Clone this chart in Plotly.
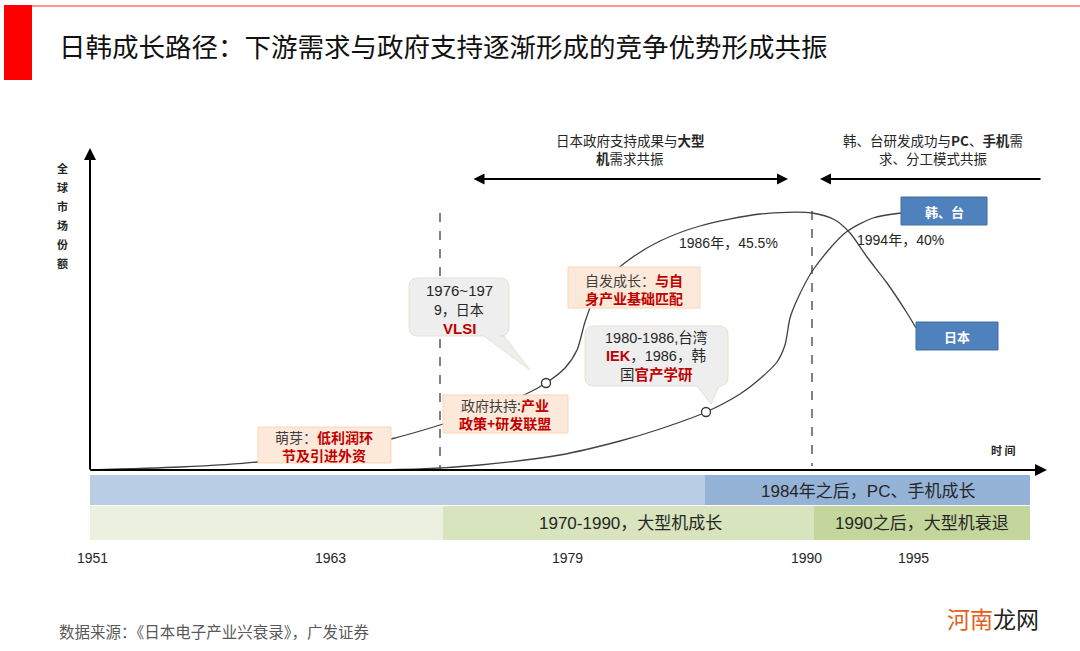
import plotly.graph_objects as go

# ---------------- data ----------------
title_text = "日韩成长路径：下游需求与政府支持逐渐形成的竞争优势形成共振"
source_text = "数据来源：《日本电子产业兴衰录》，广发证券"
year_labels = ["1951", "1963", "1979", "1990", "1995"]
year_x = [92, 330, 567, 806, 913]

# schematic market-share curves (diagram coordinates)
japan_x = [90, 180, 257, 330, 391, 440, 490, 528, 546, 565, 577, 585, 595, 610, 630, 660, 700, 760, 812, 835, 850, 867, 887, 907, 916]
japan_y = [470, 467, 462, 452, 439, 425, 408, 393, 383, 368, 350, 322, 296, 276, 259, 241, 226, 214, 213, 220, 233, 257, 283, 313, 328]
korea_x = [340, 420, 480, 560, 620, 660, 706, 740, 762, 777, 785, 790, 797, 813, 845, 873, 901]
korea_y = [470, 469, 465, 455, 441, 429, 412, 394, 377, 362, 345, 318, 300, 270, 233, 218, 213]
marker_x = [546, 706]
marker_y = [383, 412]

band1_labels = ["", "1984年之后，PC、手机成长"]
band2_labels = ["", "1970-1990，大型机成长", "1990之后，大型机衰退"]
yaxis_label = list("全球市场份额")

RED = "#c00000"
CJK = "Noto Sans CJK SC"
LAT = "Liberation Sans, Arial, Noto Sans CJK SC"
NARROW = "Liberation Sans Narrow, Liberation Sans, Noto Sans CJK SC"

fig = go.Figure()

# curves
fig.add_trace(go.Scatter(x=japan_x, y=japan_y, mode="lines", line=dict(color="#404040", width=1.3, shape="spline", smoothing=0.8), hoverinfo="skip"))
fig.add_trace(go.Scatter(x=korea_x, y=korea_y, mode="lines", line=dict(color="#404040", width=1.3, shape="spline", smoothing=0.8), hoverinfo="skip"))

shapes = []
ann = []

def rect(x0, y0, x1, y1, fill, line=None, lw=1, layer="above"):
    shapes.append(dict(type="rect", xref="x", yref="y", x0=x0, y0=y0, x1=x1, y1=y1,
                       fillcolor=fill, line=dict(color=line or fill, width=lw if line else 0), layer=layer))

def text(x, y, s, size=13, color="#262626", family=CJK, xanchor="center", yanchor="middle"):
    ann.append(dict(x=x, y=y, xref="x", yref="y", text=s, showarrow=False, xanchor=xanchor, yanchor=yanchor,
                    font=dict(size=size, color=color, family=family)))

def bubble(x0, y0, x1, y1, bx0, bx1, tx, ty, r=9):
    p = (f"M {x0+r},{y0} L {x1-r},{y0} Q {x1},{y0} {x1},{y0+r} L {x1},{y1-r} Q {x1},{y1} {x1-r},{y1} "
         f"L {bx1},{y1} L {tx},{ty} L {bx0},{y1} L {x0+r},{y1} Q {x0},{y1} {x0},{y1-r} L {x0},{y0+r} Q {x0},{y0} {x0+r},{y0} Z")
    shapes.append(dict(type="path", xref="x", yref="y", path=p, fillcolor="#eeeeee",
                       line=dict(color="#e6e2cf", width=1), layer="above"))

# header
rect(4, 5, 32, 80, "#ff0000")
shapes.append(dict(type="line", xref="x", yref="y", x0=32, y0=6, x1=1080, y1=6, line=dict(color="#ff7070", width=1.5)))
text(57, 45, title_text, size=26.5, color="#111111", xanchor="left")

# bands
rect(90, 475, 705, 505, "#b9cde5", layer="below")
rect(705, 475, 1030, 505, "#95b3d7", layer="below")
rect(90, 506, 443, 540, "#ebf1de", layer="below")
rect(443, 506, 814, 540, "#d7e4bd", layer="below")
rect(814, 506, 1030, 540, "#c3d69b", layer="below")
text(868, 491, band1_labels[1], size=17, color="#262626", family=NARROW)
text(630, 523, band2_labels[1], size=17, color="#262626", family=NARROW)
text(922, 523, band2_labels[2], size=17, color="#262626", family=NARROW)

# year labels
for yl, yx in zip(year_labels, year_x):
    text(yx, 558, yl, size=14, color="#262626", family=NARROW)

# dashed lines
shapes.append(dict(type="line", xref="x", yref="y", x0=440, y0=213, x1=440, y1=470, line=dict(color="#404040", width=1.3, dash="dash")))
shapes.append(dict(type="line", xref="x", yref="y", x0=812, y0=211, x1=812, y1=466, line=dict(color="#404040", width=1.3, dash="dash")))

# axes arrows
ann.append(dict(x=90, y=148, ax=90, ay=471, xref="x", yref="y", axref="x", ayref="y", text="", showarrow=True,
                arrowhead=2, arrowsize=1.2, arrowwidth=2, arrowcolor="#000000"))
ann.append(dict(x=1047, y=470, ax=89, ay=470, xref="x", yref="y", axref="x", ayref="y", text="", showarrow=True,
                arrowhead=2, arrowsize=1.2, arrowwidth=2, arrowcolor="#000000"))
for i, ch in enumerate(yaxis_label):
    text(62, 168 + i * 19, f"<b>{ch}</b>", size=11, color="#262626")
text(1003, 450, "<b>时 间</b>", size=11, color="#262626")

# top phase labels and arrows
text(630, 140, "日本政府支持成果与<b>大型</b>", size=13.5, color="#262626")
text(630, 158, "<b>机</b>需求共振", size=13.5, color="#262626")
text(933, 140, "韩、台研发成功与<b>PC</b>、<b>手机</b>需", size=13.5, color="#262626")
text(933, 158, "求、分工模式共振", size=13.5, color="#262626")
ann.append(dict(x=788, y=179, ax=472, ay=179, xref="x", yref="y", axref="x", ayref="y", text="", showarrow=True,
                arrowhead=2, startarrowhead=2, arrowside="end+start", arrowsize=1.1, arrowwidth=2, arrowcolor="#000000"))
ann.append(dict(x=820, y=179, ax=1042, ay=179, xref="x", yref="y", axref="x", ayref="y", text="", showarrow=True,
                arrowhead=2, arrowsize=1.1, arrowwidth=2, arrowcolor="#000000"))

# peak labels
text(728, 243, "1986年，45.5%", size=14, color="#262626", family=LAT)
text(900, 240, "1994年，40%", size=14, color="#262626", family=LAT)

# country boxes
rect(901, 197, 987, 225, "#4f81bd", line="#41719c")
text(944, 211, "<b>韩、台</b>", size=13, color="#ffffff")
rect(916, 322, 998, 350, "#4f81bd", line="#41719c")
text(957, 336, "<b>日本</b>", size=13, color="#ffffff")

# orange stage boxes
rect(258, 427, 391, 463, "#fde9d9", line="#fcd5b5")
text(324, 437, f"萌芽：<span style='color:{RED}'><b>低利润环</b></span>", size=14, color="#404040")
text(324, 455, f"<b>节及引进外资</b>", size=14, color=RED)
rect(443, 395, 568, 433, "#fde9d9", line="#fcd5b5")
text(505, 405, f"政府扶持:<span style='color:{RED}'><b>产业</b></span>", size=14, color="#404040")
text(505, 423, "<b>政策+研发联盟</b>", size=14, color=RED)
rect(568, 267, 700, 308, "#fde9d9", line="#fcd5b5")
text(634, 280, f"自发成长：<span style='color:{RED}'><b>与自</b></span>", size=14, color="#404040")
text(634, 298, "<b>身产业基础匹配</b>", size=14, color=RED)

# speech bubbles
bubble(409, 278, 509, 336, 484, 504, 530, 370)
text(459, 290, "1976~197", size=15, color="#262626", family=LAT)
text(459, 310, "9，日本", size=14, color="#262626", family=LAT)
text(459, 328, "<b>VLSI</b>", size=15, color=RED, family=LAT)
bubble(585, 326, 728, 386, 697, 719, 711, 404)
text(656, 338, "1980-1986,台湾", size=14.5, color="#262626", family=LAT)
text(656, 356, f"<b><span style='color:{RED}'>IEK</span></b>，1986，韩", size=14.5, color="#262626", family=LAT)
text(656, 374, f"国<span style='color:{RED}'><b>官产学研</b></span>", size=14.5, color="#262626", family=LAT)

# markers (on top)
fig.add_trace(go.Scatter(x=marker_x, y=marker_y, mode="markers",
                         marker=dict(size=9, color="#ffffff", line=dict(color="#333333", width=1.3)), hoverinfo="skip"))

# footer
text(57, 631, source_text, size=15.5, color="#595959", xanchor="left")
text(945, 618, "<span style='color:#e0601c'>河南</span>龙网", size=23, color="#222222", xanchor="left")

fig.update_layout(
    width=1080, height=651, margin=dict(l=0, r=0, t=0, b=0),
    paper_bgcolor="white", plot_bgcolor="white", showlegend=False,
    xaxis=dict(range=[0, 1080], visible=False, fixedrange=True),
    yaxis=dict(range=[651, 0], visible=False, fixedrange=True),
    shapes=shapes, annotations=ann,
)
fig.write_html("out.html", config={"displayModeBar": False}, post_script="document.body.style.margin='0';")
